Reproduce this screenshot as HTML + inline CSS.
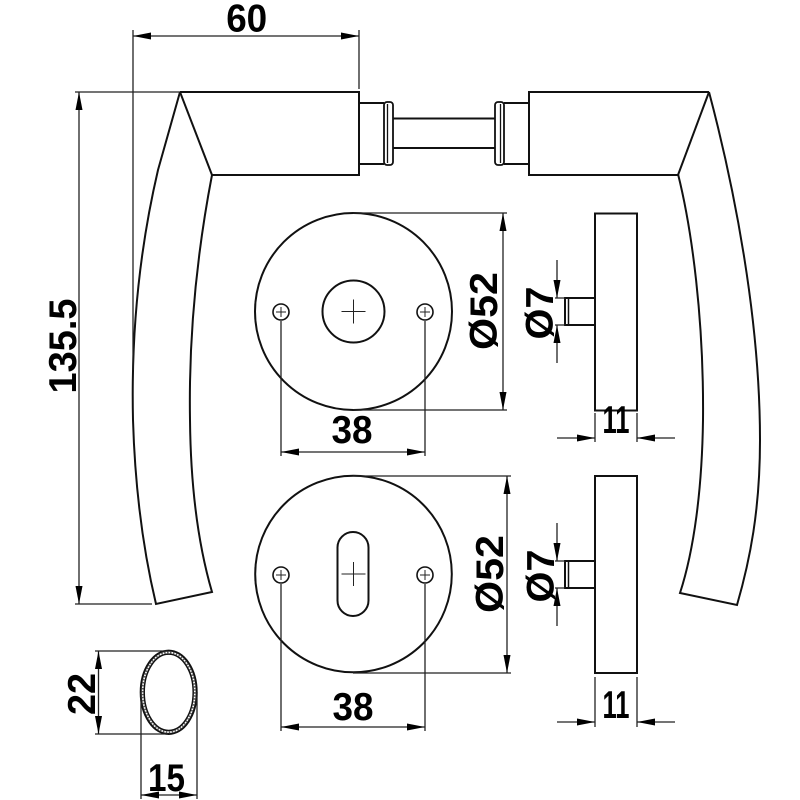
<!DOCTYPE html>
<html><head><meta charset="utf-8"><style>
html,body{margin:0;padding:0;background:#fff;}
svg{display:block;}
text{font-family:"Liberation Sans",sans-serif;font-weight:bold;fill:#000;}
</style></head><body>
<svg width="800" height="800" viewBox="0 0 800 800" xmlns="http://www.w3.org/2000/svg">
<g fill="none" stroke="#111" stroke-width="2" stroke-linejoin="miter">
  <!-- Left handle -->
  <path d="M180,92 L359,92 L359,175 L212,175"/>
  <path d="M180,92 L212,175"/>
  <path d="M180,92 L158,170 Q130,290 133,420 Q136,520 156,604 L212,592 Q191,520 190,420 Q188,300 212,175"/>
  <!-- Spindle -->
  <path d="M359,103 L384,103 M359,164 L384,164"/>
  <rect x="384" y="102" width="9" height="63" rx="3" stroke-width="1.8"/>
  <line x1="387.5" y1="104" x2="387.5" y2="163" stroke-width="1.3"/>
  <path d="M393,118.5 L495,118.5 M393,148 L495,148"/>
  <rect x="495" y="102" width="9" height="63" rx="3" stroke-width="1.8"/>
  <line x1="500.5" y1="104" x2="500.5" y2="163" stroke-width="1.3"/>
  <path d="M504,103 L529,103 M504,164 L529,164"/>
  <!-- Right handle -->
  <path d="M709,92 L529,92 L529,175 L678,175"/>
  <path d="M709,92 L678,175"/>
  <path d="M709,92 C735,190 760,320 760,440 C760,510 750,560 737,605 L680,593 C694,550 702,490 703,420 C704,320 692,230 678,174"/>

  <!-- Top rosette -->
  <circle cx="353.5" cy="311.5" r="98.5"/>
  <circle cx="353.5" cy="311.5" r="31"/>
  <circle cx="281" cy="312" r="8" stroke-width="1.6"/>
  <circle cx="425" cy="312" r="8" stroke-width="1.6"/>
  <!-- Bottom rosette -->
  <circle cx="353.5" cy="574" r="98.3"/>
  <rect x="337.5" y="532" width="31" height="84" rx="15.5"/>
  <circle cx="281" cy="575" r="8" stroke-width="1.6"/>
  <circle cx="425" cy="575" r="8" stroke-width="1.6"/>

  <!-- Side views -->
  <rect x="595" y="213.5" width="42" height="197"/>
  <path d="M595,298 L565,298 L565,325 L595,325"/>
  <line x1="568.5" y1="299" x2="568.5" y2="324" stroke-width="1.5"/>
  <rect x="595" y="476" width="42" height="197"/>
  <path d="M595,561 L565,561 L565,588 L595,588"/>
  <line x1="568.5" y1="562" x2="568.5" y2="587" stroke-width="1.5"/>

  <!-- Oval section -->
  <ellipse cx="168.7" cy="692.3" rx="28" ry="41.7"/>
  <ellipse cx="168.7" cy="692.3" rx="24.5" ry="38.2" stroke-width="1.5"/>
  <ellipse cx="168.7" cy="692.3" rx="26.3" ry="40" stroke="#555" stroke-width="2" stroke-dasharray="1.5 1.5"/>
</g>

<!-- crosses -->
<g stroke="#222" stroke-width="1">
  <path d="M341.5,311.5 L365.5,311.5 M353.5,299.5 L353.5,323.5"/>
  <path d="M276,312 L286,312 M281,307 L281,317 M420,312 L430,312 M425,307 L425,317"/>
  <path d="M341.5,574 L365.5,574 M353.5,562 L353.5,586"/>
  <path d="M276,575 L286,575 M281,570 L281,580 M420,575 L430,575 M425,570 L425,580"/>
</g>

<!-- dimension lines -->
<g fill="none" stroke="#222" stroke-width="1.3">
  <path d="M133,30 L133,370 M359,30 L359,89 M133,36 L359,36"/>
  <path d="M75,92 L180,92 M75,604 L152,604 M79,92 L79,604"/>
  <path d="M353,213 L507,213 M353,410 L507,410 M503,213 L503,410"/>
  <path d="M281,321 L281,456 M425,321 L425,456 M281,452 L425,452"/>
  <path d="M353,476 L511,476 M353,673 L511,673 M507,476 L507,673"/>
  <path d="M281,584 L281,731 M425,584 L425,731 M281,727 L425,727"/>
  <path d="M557,260 L557,298 M557,325 L557,363 M555,298 L565,298 M555,325 L565,325"/>
  <path d="M557,523 L557,561 M557,588 L557,626 M555,561 L565,561 M555,588 L565,588"/>
  <path d="M595,413 L595,442 M637,413 L637,442 M557,438 L595,438 M637,438 L675,438"/>
  <path d="M595,677 L595,727 M637,677 L637,727 M557,722 L595,722 M637,722 L675,722"/>
  <path d="M95,651 L168,651 M95,734 L168,734 M98.5,651 L98.5,734"/>
  <path d="M141,692 L141,799 M197,692 L197,799 M141,795 L197,795"/>
</g>

<!-- arrowheads -->
<g fill="#000" stroke="none">
  <polygon points="133,36 151,32.5 151,39.5"/>
  <polygon points="359,36 341,32.5 341,39.5"/>
  <polygon points="79,92 75.5,110 82.5,110"/>
  <polygon points="79,604 75.5,586 82.5,586"/>
  <polygon points="503,213 499.5,231 506.5,231"/>
  <polygon points="503,410 499.5,392 506.5,392"/>
  <polygon points="281,452 299,448.5 299,455.5"/>
  <polygon points="425,452 407,448.5 407,455.5"/>
  <polygon points="507,476 503.5,494 510.5,494"/>
  <polygon points="507,673 503.5,655 510.5,655"/>
  <polygon points="281,727 299,723.5 299,730.5"/>
  <polygon points="425,727 407,723.5 407,730.5"/>
  <polygon points="557,298 553.5,280 560.5,280"/>
  <polygon points="557,325 553.5,343 560.5,343"/>
  <polygon points="557,561 553.5,543 560.5,543"/>
  <polygon points="557,588 553.5,606 560.5,606"/>
  <polygon points="595,438 577,434.5 577,441.5"/>
  <polygon points="637,438 655,434.5 655,441.5"/>
  <polygon points="595,722 577,718.5 577,725.5"/>
  <polygon points="637,722 655,718.5 655,725.5"/>
  <polygon points="98.5,651 95,669 102,669"/>
  <polygon points="98.5,734 95,716 102,716"/>
  <polygon points="141,795 159,791.5 159,798.5"/>
  <polygon points="197,795 179,791.5 179,798.5"/>
</g>

<!-- labels -->
<g font-size="39" text-anchor="middle">
  <text x="246.7" y="31.5" textLength="41" lengthAdjust="spacingAndGlyphs">60</text>
  <text transform="translate(76,346) rotate(-90)" textLength="95" lengthAdjust="spacingAndGlyphs">135.5</text>
  <text x="352" y="443" textLength="41" lengthAdjust="spacingAndGlyphs">38</text>
  <text x="353" y="720" textLength="41" lengthAdjust="spacingAndGlyphs">38</text>
  <text transform="translate(497,311) rotate(-90)" textLength="78" lengthAdjust="spacingAndGlyphs">Ø52</text>
  <text transform="translate(503,574) rotate(-90)" textLength="78" lengthAdjust="spacingAndGlyphs">Ø52</text>
  <text transform="translate(553,313) rotate(-90)" textLength="53" lengthAdjust="spacingAndGlyphs">Ø7</text>
  <text transform="translate(554,576) rotate(-90)" textLength="53" lengthAdjust="spacingAndGlyphs">Ø7</text>
  <text x="616" y="433" textLength="27" lengthAdjust="spacingAndGlyphs">11</text>
  <text x="616" y="718" textLength="27" lengthAdjust="spacingAndGlyphs">11</text>
  <text transform="translate(95,694) rotate(-90)" textLength="42" lengthAdjust="spacingAndGlyphs">22</text>
  <text x="166.5" y="791" textLength="37" lengthAdjust="spacingAndGlyphs">15</text>
</g>
</svg>
</body></html>
